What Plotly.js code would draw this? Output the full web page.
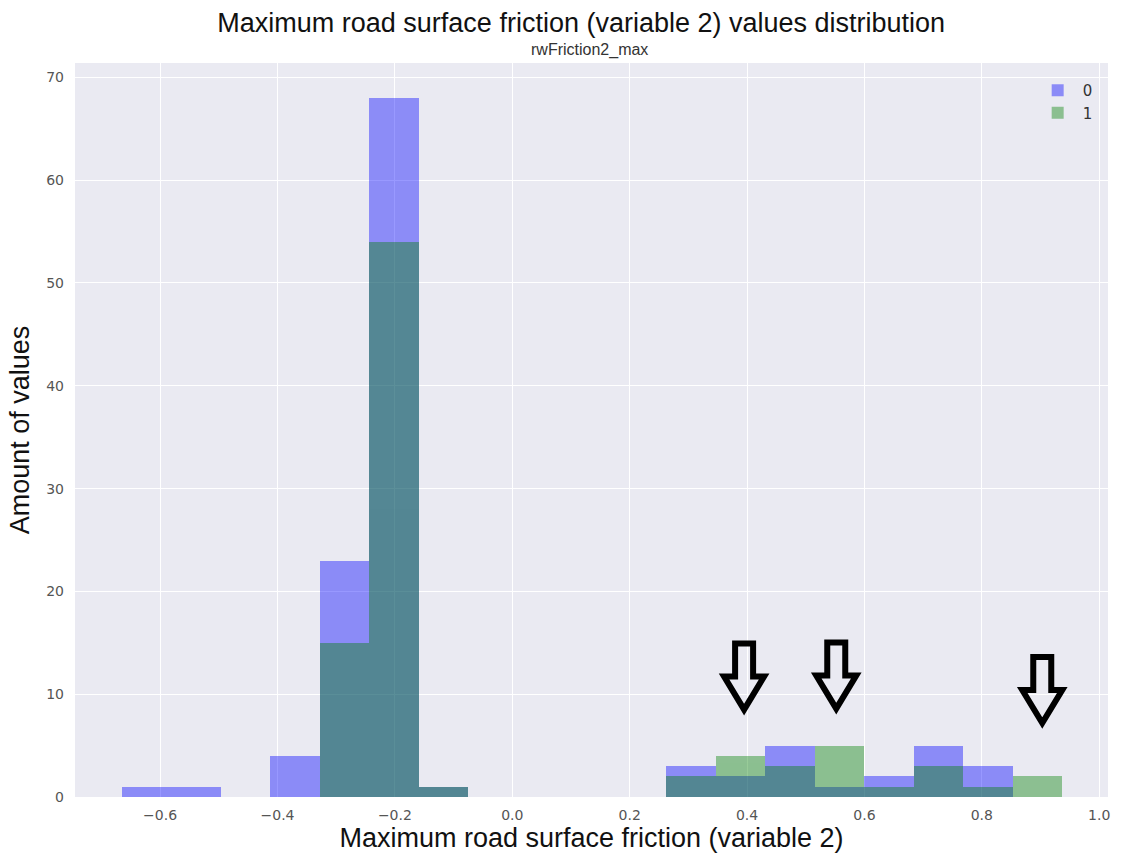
<!DOCTYPE html>
<html>
<head>
<meta charset="utf-8">
<script src="https://cdn.plot.ly/plotly-3.0.1.min.js"></script>
<style>html,body{margin:0;padding:0;background:#fff}#chart{width:1122px;height:854px}</style>
</head>
<body>
<div id="chart"></div>
<script>
// Histogram bin edges (19 bins)
const binEdges = [-0.665, -0.5807, -0.4964, -0.4121, -0.3278, -0.2435, -0.1592, -0.0749, 0.0094, 0.0937,
                  0.178, 0.2623, 0.3466, 0.4309, 0.5152, 0.5995, 0.6838, 0.7681, 0.8524, 0.9367];
const seriesNames = ["0", "1"];
const counts0 = [1, 1, 0, 4, 23, 68, 1, 0, 0, 0, 0, 3, 2, 5, 1, 2, 5, 3, 0];
const counts1 = [0, 0, 0, 0, 15, 54, 1, 0, 0, 0, 0, 2, 4, 3, 5, 1, 3, 1, 2];
// Hand-drawn arrow markers (tip positions, data coordinates)
const arrowX = [0.395, 0.552, 0.903];
const arrowY = [8.5, 8.6, 7.2];

const centers = [], widths = [];
for (let i = 0; i < binEdges.length - 1; i++) {
  centers.push((binEdges[i] + binEdges[i + 1]) / 2);
  widths.push(binEdges[i + 1] - binEdges[i]);
}

const traces = [
  {type: 'bar', x: centers, y: counts0, width: widths, name: seriesNames[0],
   marker: {color: 'rgb(0,0,255)', line: {width: 0}}, opacity: 0.4},
  {type: 'bar', x: centers, y: counts1, width: widths, name: seriesNames[1],
   marker: {color: 'rgb(0,128,0)', line: {width: 0}}, opacity: 0.4}
];

const arrowPath = 'M0,0 L-20,33 L-9,33 L-9,66 L9,66 L9,33 L20,33 Z';
const shapes = arrowX.map((ax, i) => ({
  type: 'path', xref: 'x', yref: 'y', xsizemode: 'pixel', ysizemode: 'pixel',
  xanchor: ax, yanchor: arrowY[i], path: arrowPath,
  line: {color: '#000', width: 6}, fillcolor: 'rgba(0,0,0,0)', layer: 'above'
}));

const tickFont = {family: 'DejaVu Sans, sans-serif', size: 14, color: '#555'};
const titleFont = {family: 'Liberation Sans, Arial, sans-serif', size: 27, color: '#111'};
const layout = {
  width: 1122, height: 854,
  margin: {l: 75, r: 14, t: 63, b: 57},
  paper_bgcolor: '#fff', plot_bgcolor: '#EAEAF2',
  barmode: 'overlay', bargap: 0,
  showlegend: true,
  legend: {x: 0.99, xanchor: 'right', y: 0.985, yanchor: 'top', bgcolor: 'rgba(0,0,0,0)',
           itemwidth: 40,
           font: {family: 'DejaVu Sans, sans-serif', size: 15, color: '#333'}},
  title: {text: 'Maximum road surface friction (variable 2) values distribution',
          x: 0.518, xanchor: 'center', xref: 'container', y: 0.974, yanchor: 'middle', yref: 'container',
          font: titleFont},
  xaxis: {range: [-0.745, 1.015], dtick: 0.2, tick0: 0, tickformat: '.1f',
          showgrid: true, gridcolor: '#fff', gridwidth: 1, zeroline: false, showline: false,
          ticks: '', tickfont: tickFont, ticklabelstandoff: 8, automargin: false,
          title: {text: 'Maximum road surface friction (variable 2)', standoff: 4, font: titleFont}},
  yaxis: {range: [0, 71.4], dtick: 10, tick0: 0,
          showgrid: true, gridcolor: '#fff', gridwidth: 1, zeroline: false, showline: false,
          ticks: '', tickfont: tickFont, ticklabelstandoff: 10, automargin: false,
          title: {text: 'Amount of values', standoff: 8, font: titleFont}},
  annotations: [{text: 'rwFriction2_max', xref: 'paper', yref: 'paper', x: 0.4976, y: 1.0177,
                 xanchor: 'center', yanchor: 'middle', showarrow: false,
                 font: {family: 'Liberation Sans, Arial, sans-serif', size: 16, color: '#333'}}],
  shapes: shapes
};

Plotly.newPlot('chart', traces, layout, {displayModeBar: false, staticPlot: true});
</script>
</body>
</html>
